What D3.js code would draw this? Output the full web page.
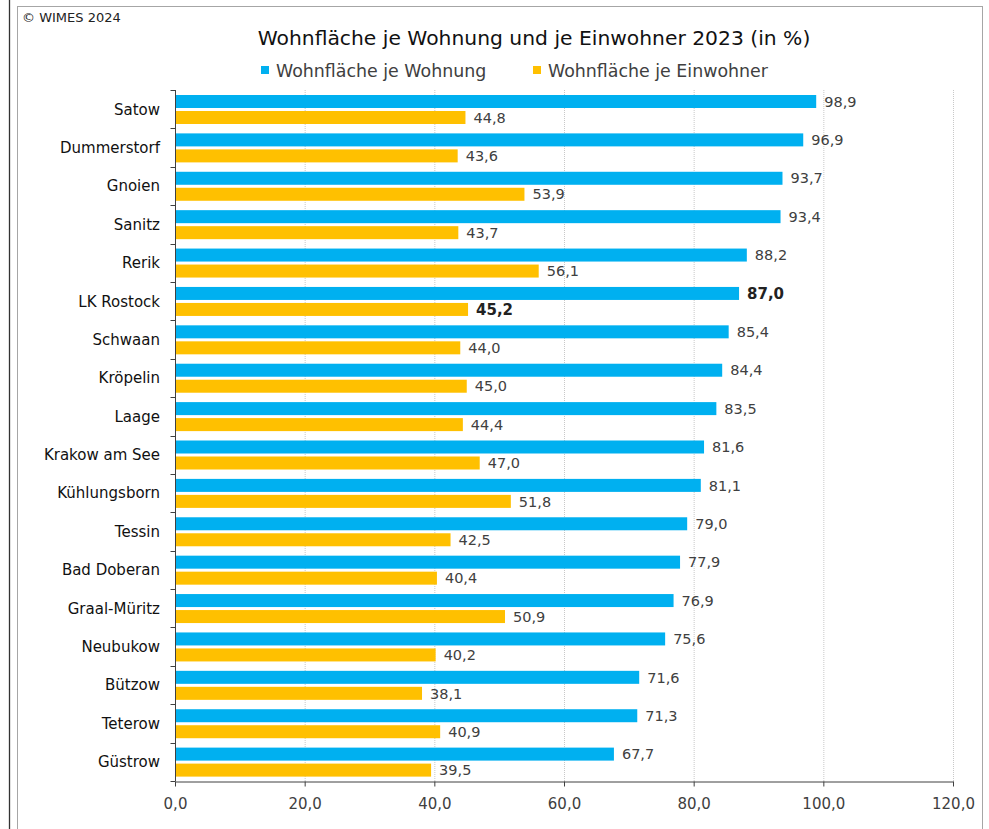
<!DOCTYPE html>
<html><head><meta charset="utf-8">
<script src="https://cdn.jsdelivr.net/npm/d3@7/dist/d3.min.js"></script>
<style>body{margin:0;background:#fff;}svg{display:block;font-family:"DejaVu Sans",Verdana,sans-serif;}</style>
</head><body>
<script>
const categories = ["Satow","Dummerstorf","Gnoien","Sanitz","Rerik","LK Rostock","Schwaan","Kröpelin","Laage","Krakow am See","Kühlungsborn","Tessin","Bad Doberan","Graal-Müritz","Neubukow","Bützow","Teterow","Güstrow"];
const wohnung   = [98.9,96.9,93.7,93.4,88.2,87.0,85.4,84.4,83.5,81.6,81.1,79.0,77.9,76.9,75.6,71.6,71.3,67.7];
const einwohner = [44.8,43.6,53.9,43.7,56.1,45.2,44.0,45.0,44.4,47.0,51.8,42.5,40.4,50.9,40.2,38.1,40.9,39.5];
const seriesNames = ["Wohnfläche je Wohnung","Wohnfläche je Einwohner"];
const seriesColors = ["#00B0F0","#FFC000"];
const xTicks = [0,20,40,60,80,100,120];
const highlight = "LK Rostock";
const title = "Wohnfläche je Wohnung und je Einwohner 2023 (in %)";
const copyright = "© WIMES 2024";

const W = 989, H = 829;
const svg = d3.select("body").append("svg").attr("width", W).attr("height", H);

// frame
svg.append("line").attr("x1",9.5).attr("x2",9.5).attr("y1",0).attr("y2",H).attr("stroke","#333").attr("stroke-width",1.3);
svg.append("rect").attr("x",17.5).attr("y",6.5).attr("width",965).attr("height",H).attr("fill","none").attr("stroke","#a6a6a6");

svg.append("text").attr("x",22).attr("y",22).attr("font-size",13).attr("fill","#222").text(copyright);
svg.append("text").attr("x",534).attr("y",45).attr("text-anchor","middle").attr("font-size",20.3).attr("fill","#111").text(title);

// legend
const leg = svg.append("g");
const legX = [261, 533];
seriesNames.forEach((n,i)=>{
  leg.append("rect").attr("x",legX[i]).attr("y",66).attr("width",8).attr("height",8).attr("fill",seriesColors[i]);
  leg.append("text").attr("x",legX[i]+15).attr("y",77).attr("font-size",17.4).attr("fill","#404040").text(n);
});

const x = d3.scaleLinear().domain([0,120]).range([175,953]);
const y = d3.scaleBand().domain(categories).range([90,781]).paddingInner(0).paddingOuter(0);
const yi = d3.scaleBand().domain([0,1]).range([5,34]).paddingInner(0.1875).paddingOuter(0);

// gridlines
svg.append("g").selectAll("line").data(xTicks.filter(d=>d>0)).join("line")
  .attr("x1",d=>x(d)+0.5).attr("x2",d=>x(d)+0.5).attr("y1",90).attr("y2",781)
  .attr("stroke","#c8c8c8").attr("stroke-dasharray","1,1");

const data = categories.map((c,i)=>({c, vals:[wohnung[i], einwohner[i]]}));
const g = svg.append("g");
data.forEach(d=>{
  d.vals.forEach((v,k)=>{
    g.append("rect").attr("x",x(0)).attr("y",y(d.c)+yi(k)).attr("width",x(v)-x(0)).attr("height",yi.bandwidth())
      .attr("fill",seriesColors[k]);
    const hl = d.c===highlight;
    g.append("text").attr("x",x(v)+8).attr("y",y(d.c)+yi(k)+yi.bandwidth()/2).attr("dy","0.36em")
      .attr("font-size",hl?15:14.5).attr("font-weight",hl?"bold":"normal").attr("fill",hl?"#222":"#404040")
      .text(d3.format(".1f")(v).replace(".",","));
  });
});

// y axis
const ya = svg.append("g").attr("transform","translate(175.5,0)");
ya.append("line").attr("x1",0).attr("x2",0).attr("y1",90).attr("y2",781).attr("stroke","#404040");
const yTickPos = categories.map(c=>y(c)).concat([y.range()[1]]);
ya.selectAll("line.t").data(yTickPos).join("line").attr("class","t")
  .attr("x1",-5).attr("x2",0).attr("y1",d=>Math.round(d)+0.5).attr("y2",d=>Math.round(d)+0.5).attr("stroke","#404040");
svg.append("g").selectAll("text").data(categories).join("text")
  .attr("x",160).attr("y",d=>y(d)+y.bandwidth()/2).attr("dy","0.36em").attr("text-anchor","end")
  .attr("font-size",15).attr("fill","#111").text(d=>d);

// x axis
const xa = svg.append("g").attr("transform","translate(0,781.5)");
xa.call(d3.axisBottom(x).tickValues(xTicks).tickSize(5).tickSizeOuter(0).tickFormat(d=>d3.format(".1f")(d).replace(".",",")));
xa.select(".domain").attr("stroke","#404040");
xa.selectAll(".tick line").attr("stroke","#404040");
xa.selectAll(".tick text").attr("font-size",15).attr("fill","#404040").attr("font-family","DejaVu Sans, sans-serif").attr("dy","1.3em");
</script>
</body></html>
